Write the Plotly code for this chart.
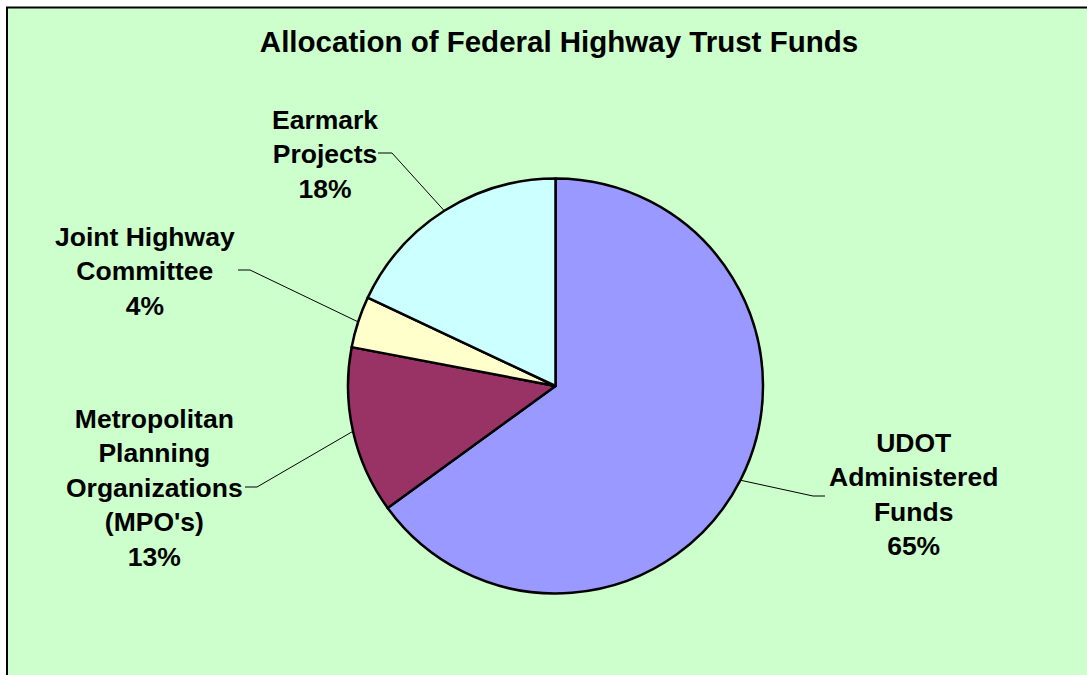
import math
import plotly.graph_objects as go

# ---- data ----
categories = ["UDOT<br>Administered<br>Funds", "Metropolitan<br>Planning<br>Organizations<br>(MPO's)",
              "Joint Highway<br>Committee", "Earmark<br>Projects"]
values = [65, 13, 4, 18]
pct_labels = ["65%", "13%", "4%", "18%"]
colors = ["#9999FF", "#993366", "#FFFFCC", "#CCFFFF"]

W, H = 1087, 675
# pie geometry (pixels)
CX, CY, R = 555.5, 386.0, 207.5

def px(x):
    return x / W

def py(y):
    return 1 - y / H

# label centres and leader elbows (pixels) - layout only
label_pos = [(913, 494), (154, 488), (145, 271), (325, 154)]
elbows = [((813, 496), (825, 496)), ((257, 487), (245, 487)),
          ((250, 270), (238, 270)), ((392, 153), (378, 153))]

fig = go.Figure()
fig.add_trace(go.Pie(
    labels=[c.replace("<br>", " ") for c in categories],
    values=values,
    sort=False,
    direction="clockwise",
    rotation=0,
    marker=dict(colors=colors, line=dict(color="black", width=2.5)),
    textinfo="none",
    hoverinfo="label+percent",
    showlegend=False,
    domain=dict(x=[px(CX - R), px(CX + R)], y=[py(CY + R), py(CY - R)]),
))

shapes = [dict(type="rect", xref="paper", yref="paper",
               x0=px(7), x1=1.05, y0=-0.05, y1=py(7.5),
               fillcolor="#CCFFCC", line=dict(color="black", width=2), layer="below")]

annotations = []
total = sum(values)
cum = 0
font = dict(family="Liberation Sans, Arial, sans-serif", size=26.5, color="black", weight=700)
for i, v in enumerate(values):
    mid = (cum + v / 2) / total
    cum += v
    ang = 2 * math.pi * mid
    ex = CX + R * math.sin(ang)
    ey = CY - R * math.cos(ang)
    (bx, by), (tx, ty) = elbows[i]
    path = f"M {px(ex)} {py(ey)} L {px(bx)} {py(by)} L {px(tx)} {py(ty)}"
    shapes.append(dict(type="path", xref="paper", yref="paper", path=path,
                       line=dict(color="black", width=1)))
    lx, ly = label_pos[i]
    annotations.append(dict(x=px(lx), y=py(ly), xref="paper", yref="paper",
                            text=categories[i] + "<br>" + pct_labels[i],
                            showarrow=False, align="center",
                            xanchor="center", yanchor="middle", font=font))

fig.update_layout(
    width=W, height=H,
    margin=dict(l=0, r=0, t=0, b=0),
    paper_bgcolor="white",
    plot_bgcolor="white",
    title=dict(text="Allocation of Federal Highway Trust Funds",
               x=px(559), y=py(42), xanchor="center", yanchor="middle",
               font=dict(family="Liberation Sans, Arial, sans-serif", size=29.5,
                         color="black", weight=700)),
    shapes=shapes,
    annotations=annotations,
)

fig.write_html("out.html", config={"displayModeBar": False},
               post_script="document.body.style.margin='0';document.body.style.overflow='hidden';")
